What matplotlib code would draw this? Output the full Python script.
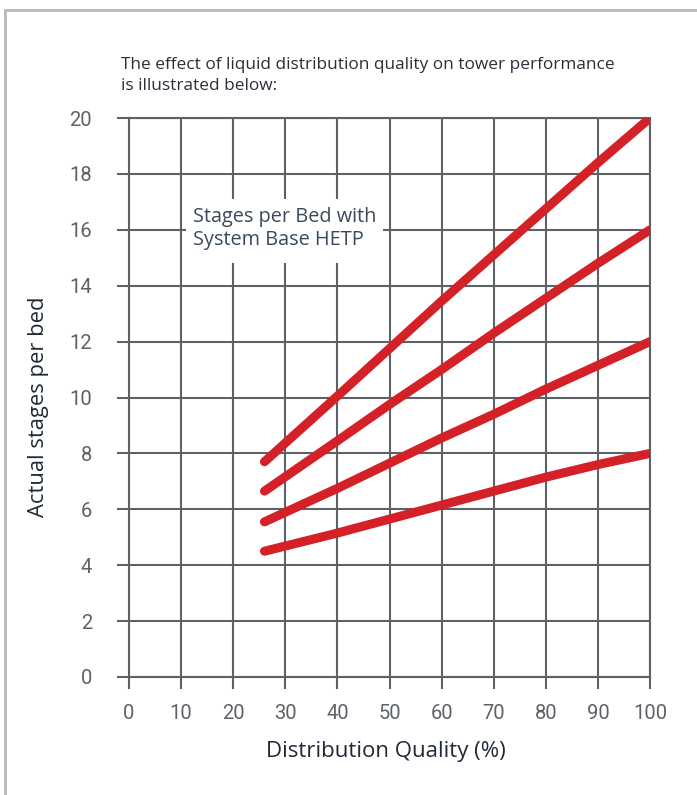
import matplotlib
matplotlib.use('Agg')
import matplotlib.pyplot as plt
from matplotlib.lines import Line2D
from matplotlib.patches import Rectangle

# Distribution quality (%) sample points
quality = [26, 40, 50, 60, 70, 80, 90, 100]

# Actual stages per bed for each base-HETP curve
stages_20 = [7.7, 10.05, 11.75, 13.45, 15.1, 16.75, 18.4, 20.0]
stages_16 = [6.65, 8.45, 9.75, 11.0, 12.3, 13.55, 14.8, 16.0]
stages_12 = [5.55, 6.75, 7.65, 8.55, 9.4, 10.3, 11.15, 12.0]
stages_8 = [4.5, 5.15, 5.65, 6.15, 6.65, 7.15, 7.6, 8.0]

x_ticks = list(range(0, 101, 10))
y_ticks = list(range(0, 21, 2))

W, H = 697, 795
grid_color = '#5d6168'
red = '#d42027'
text_font = 'Open Sans'

fig = plt.figure(figsize=(W / 100, H / 100), dpi=100)
ax = fig.add_axes([129 / W, 1 - 677 / H, 521 / W, 559 / H])

for ys in (stages_20, stages_16, stages_12, stages_8):
    ax.plot(quality, ys, color=red, lw=6.5, solid_capstyle='round', zorder=3)

ax.set_xlim(0, 100)
ax.set_ylim(0, 20)
ax.set_xticks(x_ticks)
ax.set_yticks(y_ticks)
ax.grid(True, color=grid_color, lw=1.5)
ax.set_axisbelow(True)
for s in ax.spines.values():
    s.set_color(grid_color)
    s.set_linewidth(1.5)
ax.tick_params(direction='out', length=8.5, width=1.5, color=grid_color,
               labelsize=14.5, labelcolor='#5d6168')
ax.tick_params(axis='x', pad=11)
ax.tick_params(axis='y', pad=18)
for lab in ax.get_xticklabels() + ax.get_yticklabels():
    lab.set_family('Roboto')

# white box behind the note, hiding the grid
ax.add_patch(Rectangle((10.95, 14.8), 37.8, 2.3, fc='white', ec='none', zorder=2))
ax.text(12.3, 16.05, 'Stages per Bed with\nSystem Base HETP', fontsize=14.3,
        family=text_font, color='#3a4a5c', va='center', ha='left',
        linespacing=1.22, zorder=4)

fig.text(386 / W, 1 - 757 / H, 'Distribution Quality (%)', fontsize=16,
         family=text_font, color='#1f2a36', ha='center', va='baseline')
fig.text(39 / W, 1 - 407 / H, 'Actual stages per bed', fontsize=15.8,
         family=text_font, color='#1f2a36', ha='center', va='center', rotation=90)

fig.text(121 / W, 1 - 57 / H,
         'The effect of liquid distribution quality on tower performance\nis illustrated below:',
         fontsize=12.4, family=text_font, color='#2a2f3a', va='top', ha='left',
         linespacing=1.38)

# page frame
fig.add_artist(Line2D([5 / W, 5 / W], [0, 1 - 10 / H], color='#b9bdc2', lw=2.2))
fig.add_artist(Line2D([5 / W, 1], [1 - 10 / H, 1 - 10 / H], color='#b9bdc2', lw=2.2))

fig.savefig('out.png', dpi=100, facecolor='white')
